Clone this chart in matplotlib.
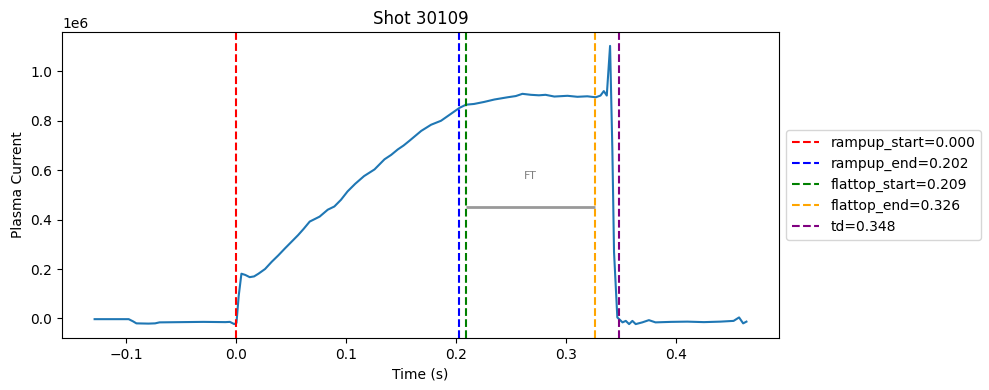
import matplotlib
matplotlib.use("Agg")
import matplotlib.pyplot as plt
import numpy as np

# plasma current trace (units of 1e6)
time = [-0.129, -0.115, -0.098, -0.094, -0.091, -0.080, -0.074, -0.070, -0.050,
        -0.030, -0.010, -0.006, -0.002, 0.000, 0.002, 0.0045, 0.008, 0.012,
        0.016, 0.020, 0.026, 0.032, 0.038, 0.044, 0.050, 0.056, 0.061, 0.0666,
        0.0756, 0.083, 0.089, 0.095, 0.101, 0.108, 0.116, 0.1255, 0.1346,
        0.1407, 0.1467, 0.152, 0.157, 0.168, 0.177, 0.186, 0.195, 0.2027,
        0.2087, 0.216, 0.225, 0.2345, 0.2465, 0.254, 0.260, 0.2677, 0.275,
        0.281, 0.289, 0.301, 0.310, 0.319, 0.3267, 0.331, 0.334, 0.3367,
        0.3397, 0.3418, 0.3433, 0.3463, 0.348, 0.351, 0.354, 0.357, 0.360,
        0.363, 0.369, 0.375, 0.381, 0.395, 0.410, 0.425, 0.440, 0.452, 0.457,
        0.4607, 0.4637]
current = [-0.003, -0.003, -0.003, -0.012, -0.020, -0.021, -0.020, -0.016, -0.015,
           -0.014, -0.015, -0.014, -0.023, -0.018, 0.090, 0.181, 0.176, 0.167,
           0.170, 0.181, 0.200, 0.229, 0.255, 0.283, 0.310, 0.337, 0.362, 0.392,
           0.412, 0.440, 0.453, 0.480, 0.514, 0.545, 0.576, 0.603, 0.644,
           0.662, 0.684, 0.700, 0.718, 0.759, 0.784, 0.800, 0.828, 0.852,
           0.865, 0.868, 0.876, 0.886, 0.895, 0.900, 0.909, 0.905, 0.903,
           0.905, 0.898, 0.901, 0.897, 0.899, 0.895, 0.902, 0.920, 0.902,
           1.103, 0.678, 0.269, 0.004, -0.003, -0.016, -0.010, -0.023, -0.010,
           -0.023, -0.016, -0.007, -0.016, -0.014, -0.013, -0.015, -0.013, -0.010, 0.004,
           -0.020, -0.013]

event_names = ["rampup_start", "rampup_end", "flattop_start", "flattop_end", "td"]
event_times = [0.000, 0.202, 0.209, 0.326, 0.348]
event_colors = ["red", "blue", "green", "orange", "purple"]

ft_level = 0.449e6
ft_text_y = 0.575e6

fig, ax = plt.subplots(figsize=(9.89, 3.9), dpi=100)
ax.plot(time, np.array(current) * 1e6, color="tab:blue", lw=1.5)

for name, t, c in zip(event_names, event_times, event_colors):
    ax.axvline(t, color=c, ls="--", label=f"{name}={t:.3f}")

# flattop bar
ax.hlines(ft_level, event_times[2], event_times[3], color="gray", lw=2, alpha=0.8)
ax.text((event_times[2] + event_times[3]) / 2, ft_text_y, "FT", color="gray",
        fontsize=8, ha="center", va="center")

ax.set_title("Shot 30109")
ax.set_xlabel("Time (s)")
ax.set_ylabel("Plasma Current")
ax.legend(loc="center left", bbox_to_anchor=(1.0, 0.5))

fig.subplots_adjust(left=0.0627, right=0.7877, top=0.918, bottom=0.1333)
fig.savefig("out.png")
